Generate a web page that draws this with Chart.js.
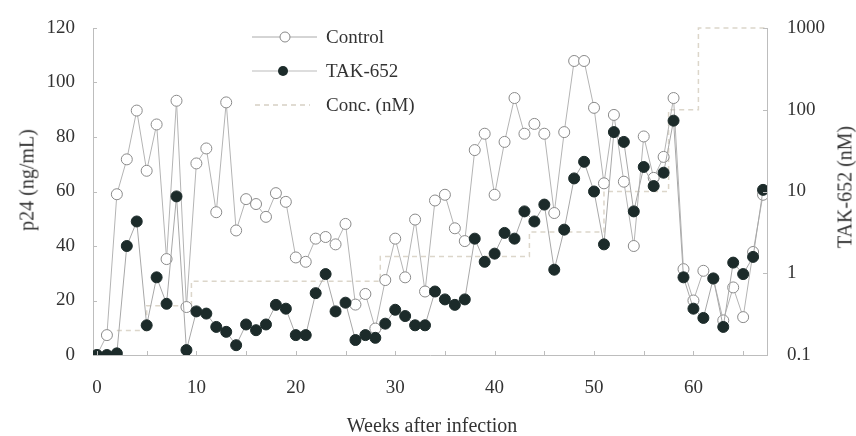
<!DOCTYPE html>
<html>
<head>
<meta charset="utf-8">
<script src="https://cdn.jsdelivr.net/npm/chart.js@4.4.1/dist/chart.umd.min.js"></script>
<style>
  html, body { margin: 0; padding: 0; background: #fff; }
  #wrap { position: relative; width: 856px; height: 436px; font-family: "Liberation Serif", "DejaVu Serif", serif; color: #333; }
  #chart { position: absolute; left: 0; top: 0; }
  .title { position: absolute; font-size: 20px; white-space: nowrap; }
  .rot { transform: translate(-50%, -50%) rotate(-90deg); }
  #legend { position: absolute; left: 250px; top: 20px; font-size: 19px; }
  #legend .row { display: flex; align-items: center; height: 34px; }
  #legend svg { margin-right: 8px; }
</style>
</head>
<body>
<div id="wrap">
  <canvas id="chart" width="856" height="436"></canvas>
  <div class="title rot" style="left:27px; top:180px;">p24 (ng/mL)</div>
  <div class="title rot" style="left:845px; top:187px;">TAK-652 (nM)</div>
  <div class="title" style="left:432px; top:425px; transform: translate(-50%, -50%);">Weeks after infection</div>
  <div id="legend">
    <div class="row">
      <svg width="68" height="14"><line x1="2" y1="7" x2="67" y2="7" stroke="#aaa" stroke-width="1"/><circle cx="35" cy="7" r="5" fill="#fff" stroke="#888"/></svg>
      <span>Control</span>
    </div>
    <div class="row">
      <svg width="68" height="14"><line x1="2" y1="7" x2="67" y2="7" stroke="#bbb" stroke-width="1"/><circle cx="33" cy="7" r="5" fill="#1c2b2a"/></svg>
      <span>TAK-652</span>
    </div>
    <div class="row">
      <svg width="68" height="14"><line x1="5" y1="7" x2="60" y2="7" stroke="#d6d0c4" stroke-width="1.5" stroke-dasharray="5,4"/></svg>
      <span>Conc. (nM)</span>
    </div>
  </div>
</div>
<script>
// weeks after infection (one sample per week)
const weeks = Array.from({ length: 68 }, (_, i) => i);

// p24 (ng/mL)
const control = [0, 7.3, 59, 71.8, 89.7, 67.6, 84.6, 35.2, 93.3, 17.6,
  70.3, 75.8, 52.4, 92.7, 45.7, 57.2, 55.4, 50.7, 59.4, 56.2,
  35.8, 34.2, 42.7, 43.3, 40.6, 48.1, 18.5, 22.4, 9.7, 27.5,
  42.7, 28.5, 49.7, 23.3, 56.7, 58.8, 46.5, 41.8, 75.2, 81.2,
  58.8, 78.2, 94.3, 81.2, 84.8, 81.2, 52.1, 81.8, 107.9, 107.9,
  90.7, 63, 88.1, 63.6, 40, 80.2, 65, 72.7, 94.3, 31.5,
  20, 30.9, 28, 12.7, 24.8, 13.9, 37.8, 58.8];

const tak652 = [0, 0, 0.6, 40, 49, 10.9, 28.5, 18.8, 58.2, 1.8,
  16, 15.2, 10.3, 8.5, 3.6, 11.2, 9.1, 11.2, 18.4, 17,
  7.3, 7.3, 22.7, 29.7, 16, 19.2, 5.5, 7.3, 6.3, 11.5,
  16.6, 14.3, 10.9, 10.9, 23.3, 20.4, 18.4, 20.4, 42.7, 34.2,
  37.2, 44.8, 42.7, 52.7, 49, 55.2, 31.3, 46, 64.8, 70.9,
  60, 40.6, 81.8, 78.2, 52.7, 69, 62, 66.9, 86, 28.5,
  17, 13.6, 28.1, 10.3, 33.9, 29.7, 36, 60.6];

// TAK-652 concentration steps (nM)
const concWeeks = [2, 5, 9.5, 28.5, 43.5, 51, 57.5, 60.5, 67.4];
const concValues = [0.2, 0.4, 0.8, 1.6, 3.2, 10, 100, 1000, 1000];

const xTicks = [0, 5, 10, 15, 20, 25, 30, 35, 40, 45, 50, 55, 60, 65];
const yTicks = [0, 20, 40, 60, 80, 100, 120];
const y2Ticks = [0.1, 1, 10, 100, 1000];

const axisColor = '#bdbdbd';
const textColor = '#333';
const tickFont = { family: '"Liberation Serif", serif', size: 19 };

// small tick marks drawn inward from each axis
const innerTicks = {
  id: 'innerTicks',
  afterDatasetsDraw(chart) {
    const ctx = chart.ctx;
    const a = chart.chartArea;
    ctx.save();
    ctx.strokeStyle = axisColor;
    ctx.lineWidth = 1;
    ctx.beginPath();
    chart.scales.x.ticks.forEach(t => {
      const px = Math.round(chart.scales.x.getPixelForValue(t.value)) + 0.5;
      ctx.moveTo(px, a.bottom); ctx.lineTo(px, a.bottom - 4);
    });
    chart.scales.y.ticks.forEach(t => {
      const py = Math.round(chart.scales.y.getPixelForValue(t.value)) + 0.5;
      ctx.moveTo(a.left, py); ctx.lineTo(a.left + 4, py);
    });
    chart.scales.y2.ticks.forEach(t => {
      const py = Math.round(chart.scales.y2.getPixelForValue(t.value)) + 0.5;
      ctx.moveTo(a.right, py); ctx.lineTo(a.right - 4, py);
    });
    ctx.stroke();
    ctx.restore();
  }
};

new Chart(document.getElementById('chart'), {
  type: 'line',
  data: {
    datasets: [
      {
        label: 'TAK-652',
        data: weeks.map((w, i) => ({ x: w, y: tak652[i] })),
        yAxisID: 'y',
        borderColor: '#a8a8a8',
        borderWidth: 1,
        pointRadius: 5.5,
        pointBackgroundColor: '#1c2b2a',
        pointBorderColor: '#1c2b2a',
        pointBorderWidth: 1,
        order: 0
      },
      {
        label: 'Control',
        data: weeks.map((w, i) => ({ x: w, y: control[i] })),
        yAxisID: 'y',
        borderColor: '#b4b4b4',
        borderWidth: 1,
        pointRadius: 5.5,
        pointBackgroundColor: '#fff',
        pointBorderColor: '#8a8a8a',
        pointBorderWidth: 1,
        order: 1
      },
      {
        label: 'Conc. (nM)',
        data: concWeeks.map((w, i) => ({ x: w, y: concValues[i] })),
        yAxisID: 'y2',
        stepped: 'before',
        borderColor: '#dcd6ca',
        borderWidth: 1.5,
        borderDash: [5, 4],
        pointRadius: 0,
        clip: false,
        order: 2
      }
    ]
  },
  options: {
    responsive: false,
    animation: false,
    layout: { padding: { top: 28, left: 0, right: 0, bottom: 0 } },
    plugins: { legend: { display: false }, tooltip: { enabled: false } },
    scales: {
      x: {
        type: 'linear',
        min: -0.4,
        max: 67.4,
        afterBuildTicks: s => { s.ticks = xTicks.map(v => ({ value: v })); },
        afterFit: s => { s.height = 81; },
        grid: { display: false },
        border: { display: true, color: axisColor },
        ticks: {
          padding: 14,
          color: textColor,
          font: tickFont,
          maxRotation: 0,
          autoSkip: false,
          callback: v => (v % 10 === 0 ? String(v) : '')
        }
      },
      y: {
        position: 'left',
        min: 0,
        max: 120,
        afterBuildTicks: s => { s.ticks = yTicks.map(v => ({ value: v })); },
        afterFit: s => { s.width = 93; },
        grid: { display: false },
        border: { display: true, color: axisColor },
        ticks: { padding: 10, color: textColor, font: tickFont }
      },
      y2: {
        type: 'logarithmic',
        position: 'right',
        min: 0.1,
        max: 1000,
        afterBuildTicks: s => { s.ticks = y2Ticks.map(v => ({ value: v })); },
        afterFit: s => { s.width = 89; },
        grid: { display: false },
        border: { display: true, color: axisColor },
        ticks: {
          padding: 12,
          color: textColor,
          font: tickFont,
          callback: v => String(v)
        }
      }
    }
  },
  plugins: [innerTicks]
});
</script>
</body>
</html>
